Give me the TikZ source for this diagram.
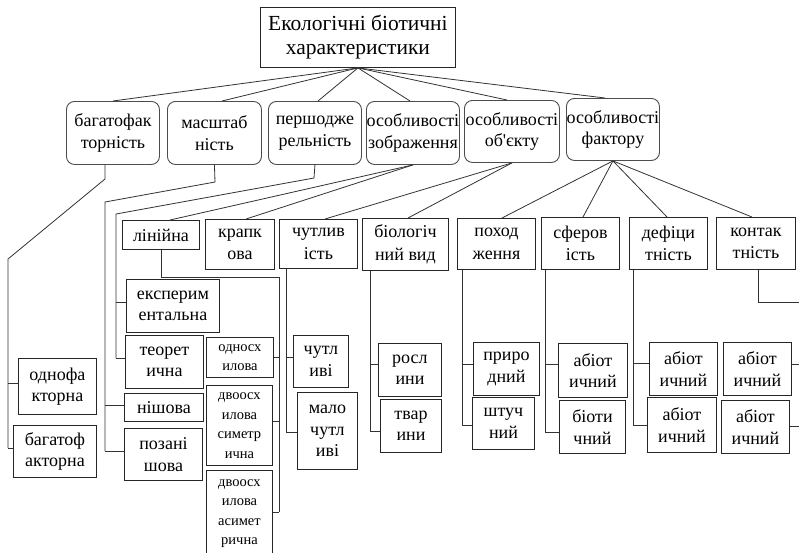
\documentclass[tikz,border=0pt]{standalone}
\usepackage{fontspec}
\newfontfamily\ser{Liberation Serif}
% box from its top-left corner (x1,y1) to its bottom-right corner (x2,y2)
\newcommand{\bx}[7][plainbox]{%
  \pgfmathsetmacro\bxw{#5-#3}\pgfmathsetmacro\bxh{#6-#4}%
  \node[#1,anchor=north west,minimum width=\bxw pt,minimum height=\bxh pt] (#2) at (#3,#4) {#7};}
% short branch from a spine at x=#1, height #2, to the west/east side of node #3
\newcommand{\tickw}[3]{\draw[wire] (#1,#2) -- (#3.west |- 0,#2);}
\newcommand{\ticke}[3]{\draw[wire] (#1,#2) -- (#3.east |- 0,#2);}
\begin{document}
\begin{tikzpicture}[x=1pt,y=-1pt,
  wire/.style={draw=black!80,line width=0.8pt},
  plainbox/.style={draw=black!85,line width=0.9pt,inner sep=0pt,align=center,
    font=\ser\fontsize{18}{21.5}\selectfont},
  midbox/.style={plainbox,font=\ser\fontsize{18}{22.5}\selectfont},
  roundbox/.style={plainbox,rounded corners=8pt,draw=black!70},
  smallbox/.style={plainbox,font=\ser\fontsize{14.5}{19.5}\selectfont},
  titlebox/.style={plainbox,font=\ser\fontsize{21.5}{24}\selectfont}]
\fill[white] (0,0) rectangle (799,552);
\useasboundingbox (0,0) rectangle (799,552);
\begin{scope}
\clip (0,0) rectangle (799,552);

% root
\bx[titlebox]{top}{260}{7}{455}{67}{Екологічні біотичні\\характеристики}

% second level
\bx[roundbox]{b1}{66}{101}{159}{164}{багатофак\\торність}
\bx[roundbox]{b2}{167}{101}{261}{164}{масштаб\\ність}
\bx[roundbox]{b3}{268}{101}{361}{164}{першодже\\рельність}
\bx[roundbox]{b4}{366}{101}{459}{164}{особливості\\зображення}
\bx[roundbox]{b5}{464}{100}{559}{162}{особливості\\об'єкту}
\bx[roundbox]{b6}{566}{98}{659}{160}{особливості\\фактору}

% third level
\bx[midbox]{c1}{122}{220}{199}{249}{лінійна}
\bx[midbox]{c2}{205}{219}{274}{269}{крапк\\ова}
\bx[midbox]{c3}{279}{219}{357}{268}{чутлив\\ість}
\bx[midbox]{c4}{362}{218}{448}{270}{біологіч\\ний вид}
\bx[midbox]{c5}{457}{218}{535}{269}{поход\\ження}
\bx[midbox]{c6}{541}{217}{619}{269}{сферов\\ість}
\bx[midbox]{c7}{629}{217}{707}{269}{дефіци\\тність}
\bx[midbox]{c8}{716}{217}{795}{269}{контак\\тність}

% leaves
\bx{e1}{18}{358}{96}{414}{однофа\\кторна}
\bx{e2}{13}{425}{96}{477}{багатоф\\акторна}
\bx{d1}{126}{279}{219}{332}{експерим\\ентальна}
\bx{d2}{125}{335}{203}{388}{теорет\\ична}
\bx{d3}{124}{393}{203}{421}{нішова}
\bx{d4}{124}{428}{202}{480}{позані\\шова}
\bx[smallbox]{s1}{206}{337}{273}{377}{односх\\илова}
\bx[smallbox]{s2}{206}{385}{272}{465}{двоосх\\илова\\симетр\\ична}
\bx[smallbox]{s3}{206}{470}{272}{556}{двоосх\\илова\\асимет\\рична}
\bx{f1}{293}{335}{348}{387}{чутл\\иві}
\bx{f2}{297}{392}{357}{469}{мало\\чутл\\иві}
\bx{g1}{378}{343}{441}{396}{росл\\ини}
\bx{g2}{380}{399}{441}{452}{твар\\ини}
\bx{h1}{473}{342}{539}{395}{приро\\дний}
\bx{h2}{472}{397}{534}{449}{штуч\\ний}
\bx{i1}{558}{343}{627}{397}{абіот\\ичний}
\bx{i2}{559}{400}{625}{453}{біоти\\чний}
\bx{j1}{649}{342}{717}{395}{абіот\\ичний}
\bx{j2}{647}{397}{716}{452}{абіот\\ичний}
\bx{k1}{723}{342}{791}{395}{абіот\\ичний}
\bx{k2}{721}{400}{789}{453}{абіот\\ичний}

% root to second level
\draw[wire] (top.south) -- (113,0 |- b1.north);
\draw[wire] (top.south) -- (222,0 |- b2.north);
\draw[wire] (top.south) -- (318,0 |- b3.north);
\draw[wire] (top.south) -- (410,0 |- b4.north);
\draw[wire] (top.south) -- (507,0 |- b5.north);
\draw[wire] (top.south) -- (605,0 |- b6.north);

% second level to third level
\draw[wire] (b4.south) -- (170,0 |- c1.north);
\draw[wire] (b4.south) -- (246,0 |- c2.north);
\draw[wire] (b5.south) -- (325,0 |- c3.north);
\draw[wire] (b5.south) -- (408,0 |- c4.north);
\draw[wire] (b6.south) -- (502,0 |- c5.north);
\draw[wire] (b6.south) -- (583,0 |- c6.north);
\draw[wire] (b6.south) -- (667,0 |- c7.north);
\draw[wire] (b6.south) -- (752,0 |- c8.north);

% багатофакторність
\draw[wire] (105,0 |- b1.south) -- (105,179) -- (8,259) -- (8,448);
\tickw{8}{383}{e1}
\tickw{8}{448}{e2}

% масштабність
\draw[wire] (b2.south) -- (215,182) -- (105,202) -- (105,451);
\tickw{105}{405}{d3}
\tickw{105}{451}{d4}

% першодженельність
\draw[wire] (b3.south) -- (314,178) -- (116,214) -- (116,358);
\tickw{116}{302}{d1}
\tickw{116}{358}{d2}

% лінійна
\draw[wire] (161,0 |- c1.south) -- (161,277) -- (279,277) -- (279,512);
\ticke{279}{357}{s1}
\ticke{279}{421}{s2}
\ticke{279}{512}{s3}

% чутливість
\draw[wire] (286,0 |- c3.south) -- (286,432);
\tickw{286}{357}{f1}
\tickw{286}{432}{f2}

% біологічний вид
\draw[wire] (370,0 |- c4.south) -- (370,431);
\tickw{370}{364}{g1}
\tickw{370}{431}{g2}

% походження
\draw[wire] (462,0 |- c5.south) -- (462,425);
\tickw{462}{364}{h1}
\tickw{462}{425}{h2}

% сферовість
\draw[wire] (545,0 |- c6.south) -- (545,432);
\tickw{545}{364}{i1}
\tickw{545}{432}{i2}

% дефіцитність
\draw[wire] (633,0 |- c7.south) -- (633,425);
\tickw{633}{363}{j1}
\tickw{633}{425}{j2}

% контактність
\draw[wire] (758,0 |- c8.south) -- (758,302) -- (799,302);
\draw[wire] (k1.east |- 0,364) -- (799,364);
\draw[wire] (k2.east |- 0,426) -- (799,426);
\end{scope}
\end{tikzpicture}
\end{document}
